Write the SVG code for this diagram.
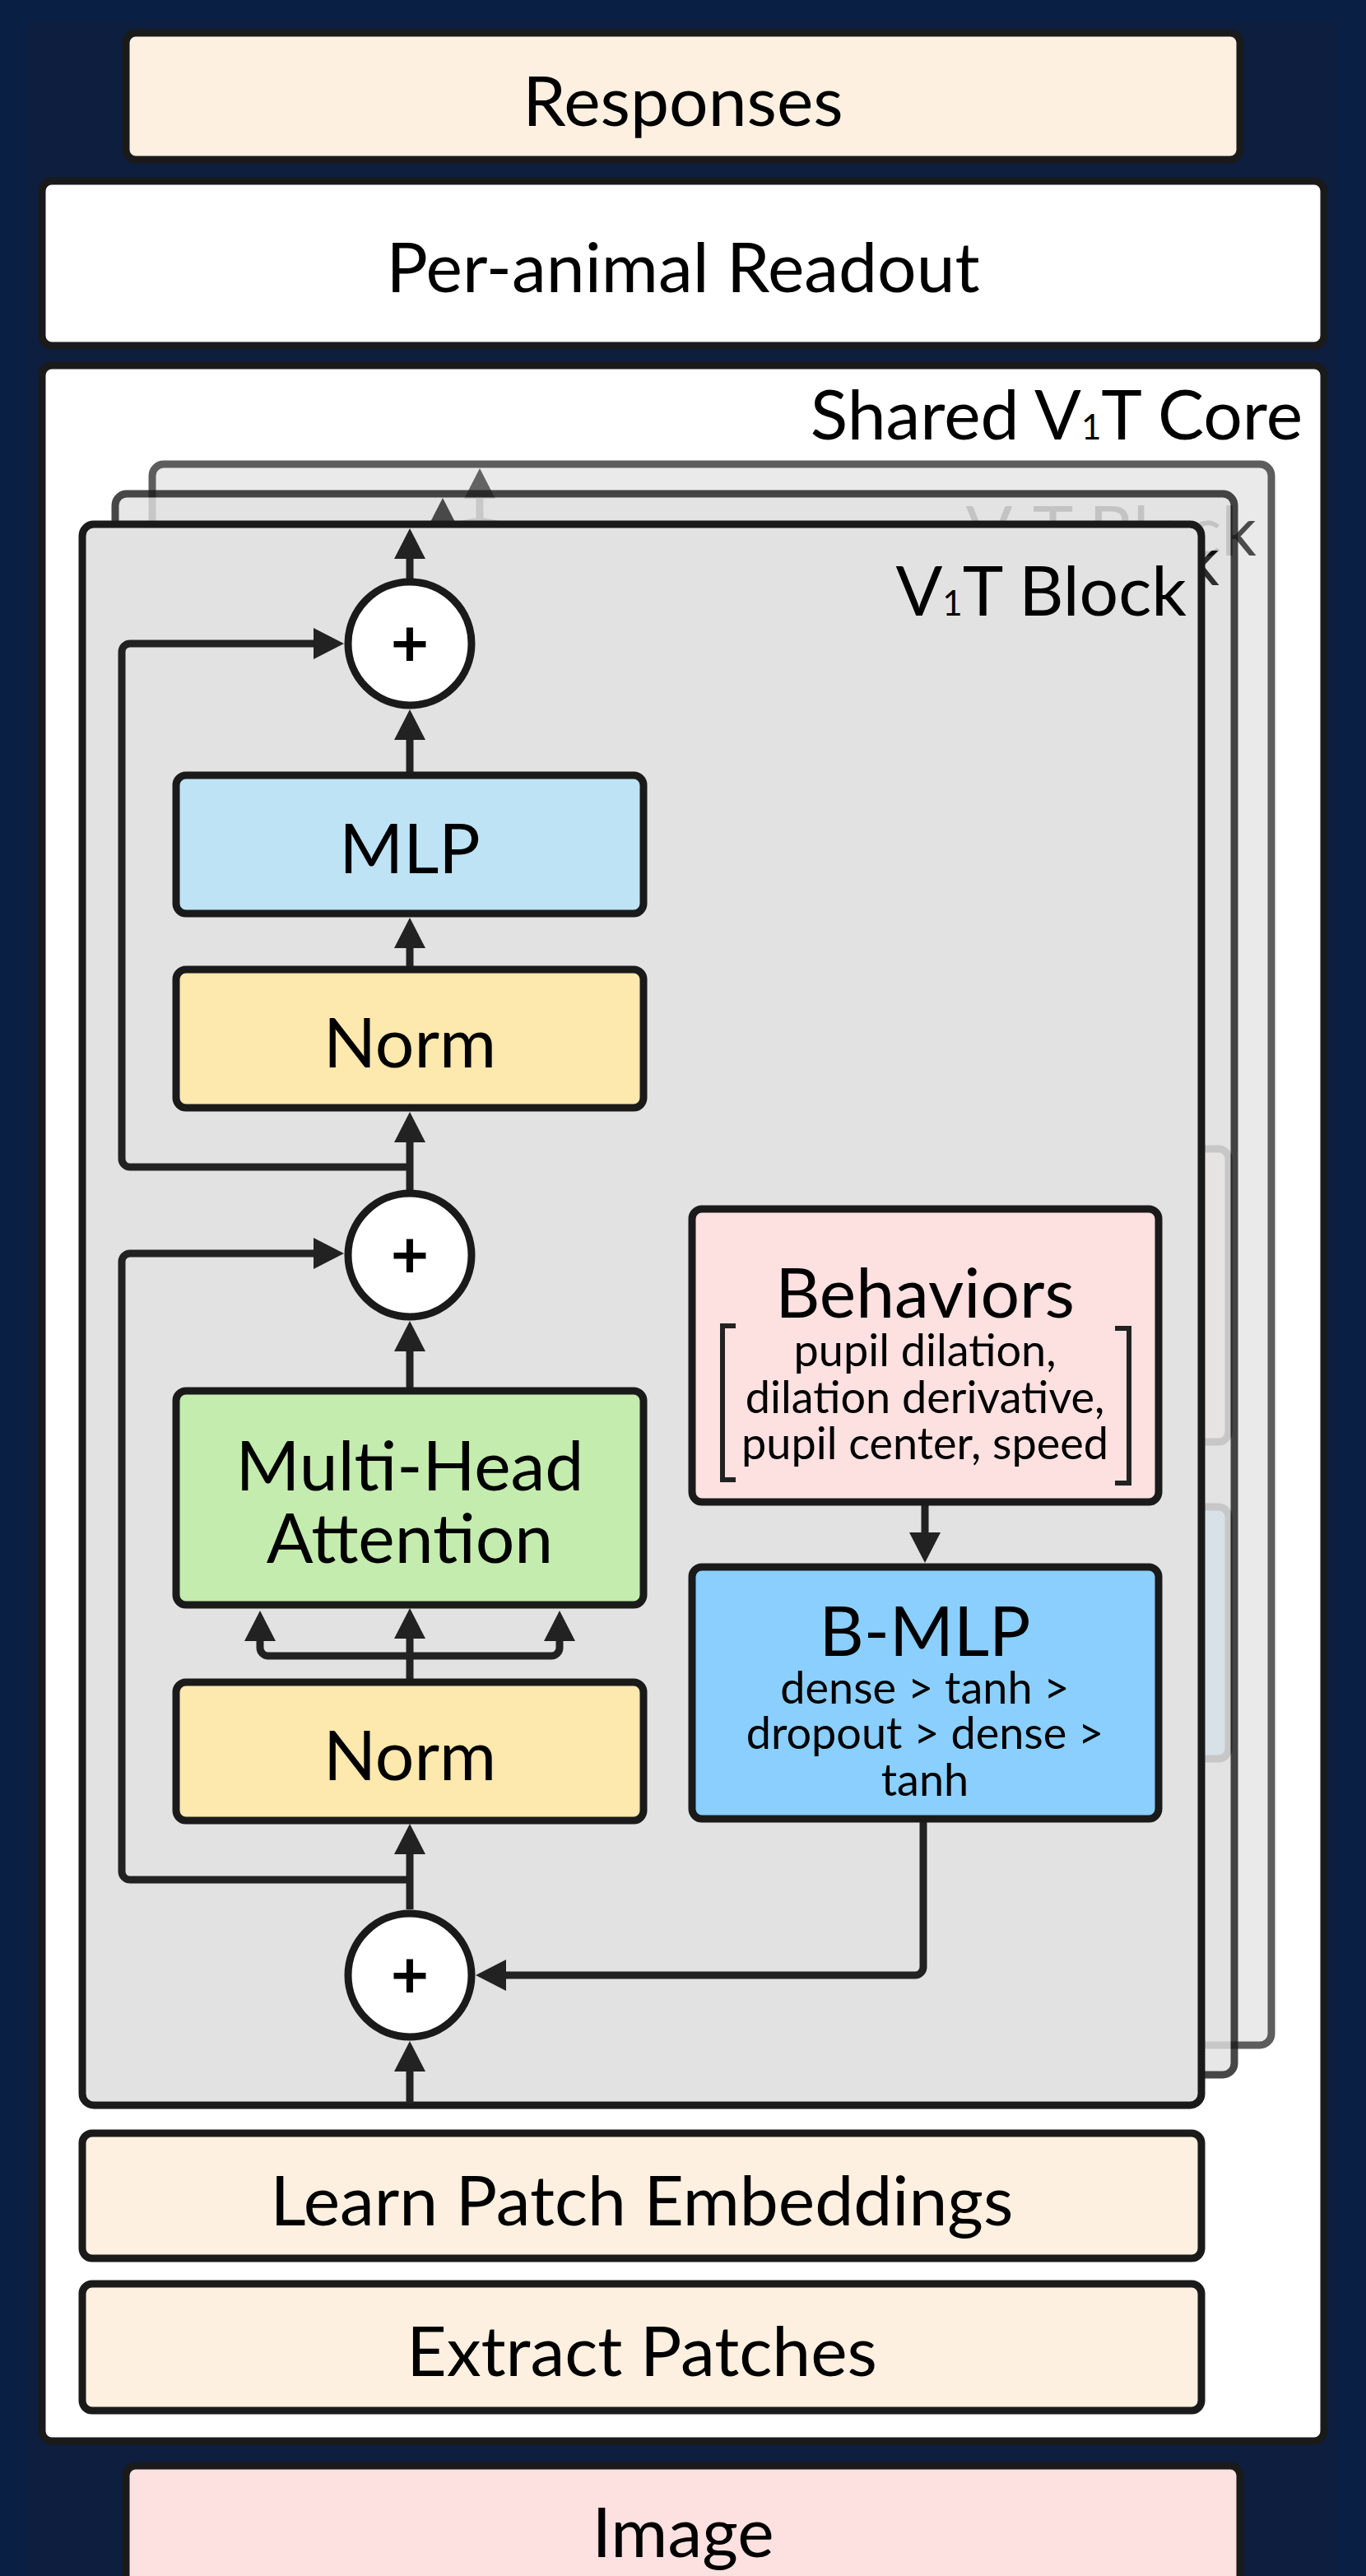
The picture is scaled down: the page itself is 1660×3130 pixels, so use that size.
<svg xmlns="http://www.w3.org/2000/svg" xmlns:xlink="http://www.w3.org/1999/xlink" width="1660" height="3130" viewBox="0 0 1660 3130">
<style>
.box{stroke:#1a1a1a;stroke-width:9}
.lbl{font-family:Lato,'Liberation Sans',sans-serif;font-size:84px;fill:#000;text-anchor:middle}
.sub{font-family:Lato,'Liberation Sans',sans-serif;font-size:54px;fill:#000;text-anchor:middle}
.plus{font-family:Lato,'Liberation Sans',sans-serif;font-size:80px;font-weight:bold;fill:#000;text-anchor:middle}
.con{fill:none;stroke:#222;stroke-width:9}
</style>
<defs>
<marker id="ah" markerUnits="userSpaceOnUse" markerWidth="40" markerHeight="40" refX="2" refY="19" orient="auto">
<path d="M0,0 L37,19 L0,38 z" fill="#222"/>
</marker>
</defs>
<rect x="0" y="0" width="1660" height="3130" fill="#0a1f44"/>
<rect x="35" y="25" width="1590" height="3105" fill="#0e1e3f"/>

<g id="responses">
<rect class="box" x="153" y="40" width="1354" height="154" rx="12" fill="#fdf0e0"/>
<text class="lbl" x="830" y="153">Responses</text>
</g>
<g id="readout">
<rect class="box" x="51" y="220" width="1558" height="200" rx="12" fill="#ffffff"/>
<text class="lbl" x="830" y="355">Per-animal Readout</text>
</g>
<g id="core">
<rect class="box" x="51" y="444" width="1558" height="2522" rx="12" fill="#ffffff"/>
<text class="lbl" x="1583" y="534" style="text-anchor:end">Shared V<tspan font-size="42">1</tspan>T Core</text>
</g>

<use xlink:href="#block" href="#block" transform="translate(85,-73)" opacity="0.7"/>
<use xlink:href="#block" href="#block" transform="translate(40,-37)" opacity="0.8"/>

<g id="block">
<rect class="box" x="100" y="637" width="1360" height="1921" rx="14" fill="#e2e2e2"/>
<text class="lbl" x="1442" y="748" style="text-anchor:end">V<tspan font-size="42">1</tspan>T Block</text>
<g id="connectors">
<path class="con" d="M498,2556 V2515" marker-end="url(#ah)"/>
<path class="con" d="M498,2320 V2251" marker-end="url(#ah)"/>
<path class="con" d="M498,2040 V1989" marker-end="url(#ah)"/>
<path class="con" d="M498,2012 H326 A10,10 0 0 1 316,2002 V1992" marker-end="url(#ah)"/>
<path class="con" d="M498,2012 H670 A10,10 0 0 0 680,2002 V1992" marker-end="url(#ah)"/>
<path class="con" d="M498,1686 V1640" marker-end="url(#ah)"/>
<path class="con" d="M498,1446 V1386" marker-end="url(#ah)"/>
<path class="con" d="M498,1174 V1150" marker-end="url(#ah)"/>
<path class="con" d="M498,938 V897" marker-end="url(#ah)"/>
<path class="con" d="M498,703 V677" marker-end="url(#ah)"/>
<path class="con" d="M498,1418 H158 A10,10 0 0 1 148,1408 V792 A10,10 0 0 1 158,782 H383" marker-end="url(#ah)"/>
<path class="con" d="M498,2284 H158 A10,10 0 0 1 148,2274 V1533 A10,10 0 0 1 158,1523 H383" marker-end="url(#ah)"/>
<path class="con" d="M1124,1829 V1864" marker-end="url(#ah)"/>
<path class="con" d="M1122,2214 V2390 A10,10 0 0 1 1112,2400 H613" marker-end="url(#ah)"/>
</g>
<g id="add1">
<circle class="box" cx="498" cy="782" r="75" fill="#fff"/>
<text class="plus" x="498" y="810">+</text>
</g>
<g id="mlp">
<rect class="box" x="214" y="942" width="568" height="168" rx="12" fill="#bde3f5"/>
<text class="lbl" x="498" y="1061">MLP</text>
</g>
<g id="norm1">
<rect class="box" x="214" y="1178" width="568" height="168" rx="12" fill="#fde8ad"/>
<text class="lbl" x="498" y="1297">Norm</text>
</g>
<g id="add2">
<circle class="box" cx="498" cy="1525" r="75" fill="#fff"/>
<text class="plus" x="498" y="1553">+</text>
</g>
<g id="mha">
<rect class="box" x="214" y="1690" width="568" height="260" rx="12" fill="#c4ecae"/>
<text class="lbl" x="498" y="1811">Multi-Head</text>
<text class="lbl" x="498" y="1899">Attention</text>
</g>
<g id="norm2">
<rect class="box" x="214" y="2044" width="568" height="168" rx="12" fill="#fde8ad"/>
<text class="lbl" x="498" y="2163">Norm</text>
</g>
<g id="add3">
<circle class="box" cx="498" cy="2400" r="75" fill="#fff"/>
<text class="plus" x="498" y="2428">+</text>
</g>
<g id="behaviors">
<rect class="box" x="841" y="1469" width="567" height="356" rx="12" fill="#fde0e0"/>
<text class="lbl" x="1124" y="1601">Behaviors</text>
<path d="M894,1611 H878 V1798 H894 M1355,1614 H1372 V1802 H1355" fill="none" stroke="#222" stroke-width="6"/>
<text class="sub" x="1124" y="1660">pupil dilation,</text>
<text class="sub" x="1124" y="1717">dilation derivative,</text>
<text class="sub" x="1124" y="1773">pupil center, speed</text>
</g>
<g id="bmlp">
<rect class="box" x="841" y="1904" width="567" height="306" rx="12" fill="#8acffe"/>
<text class="lbl" x="1124" y="2012">B-MLP</text>
<text class="sub" x="1124" y="2070">dense &gt; tanh &gt;</text>
<text class="sub" x="1124" y="2125">dropout &gt; dense &gt;</text>
<text class="sub" x="1124" y="2182">tanh</text>
</g>
</g>

<g id="embed">
<rect class="box" x="100" y="2592" width="1360" height="152" rx="12" fill="#fdf0e0"/>
<text class="lbl" x="780" y="2704">Learn Patch Embeddings</text>
</g>
<g id="extract">
<rect class="box" x="100" y="2775" width="1360" height="154" rx="12" fill="#fdf0e0"/>
<text class="lbl" x="780" y="2887">Extract Patches</text>
</g>
<g id="image">
<rect class="box" x="153" y="2996" width="1354" height="154" rx="12" fill="#fde0e0"/>
<text class="lbl" x="830" y="3107">Image</text>
</g>
</svg>
